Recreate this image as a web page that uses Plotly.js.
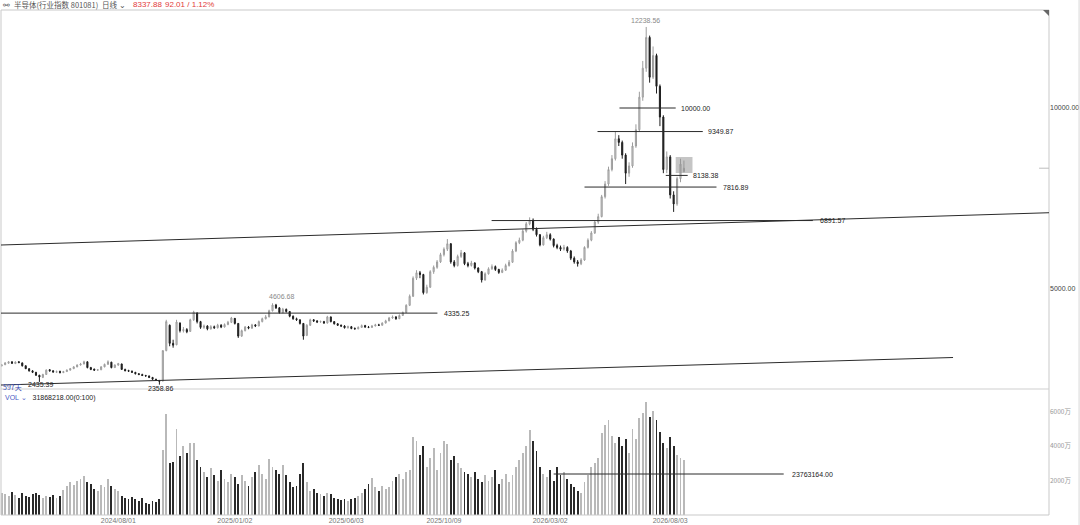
<!DOCTYPE html>
<html>
<head>
<meta charset="utf-8">
<script src="https://cdn.plot.ly/plotly-3.0.1.min.js"></script>
<style>
html,body{margin:0;padding:0;background:#fff;}
#chart{width:1080px;height:525px;}
</style>
</head>
<body>
<div id="chart"></div>
<script>
// ---- data (candle index 0..199, daily-ish sampling) ----
const openP = [
2880,2910,2950,2990,2940,2990,2960,2880,2800,2740,
2700,2620,2560,2640,2770,2740,2700,2730,2690,2720,
2760,2800,2850,2900,2930,2990,2830,2790,2760,2770,
2850,2920,2980,2830,2900,2930,2780,2750,2730,2700,
2660,2640,2610,2600,2560,2510,2470,2460,3300,4000,
3500,3460,4060,3850,3880,3830,4150,4340,4100,3940,
3980,3900,3960,3930,4000,3950,4020,4080,4190,4050,
3700,3850,3950,3920,4010,3980,4100,4180,4230,4400,
4560,4480,4350,4440,4380,4250,4180,4150,4050,3720,
4000,4150,4120,4090,4100,4060,4230,4100,4040,4000,
3980,3930,3960,3910,3900,3940,3990,3950,3940,3980,
4010,4000,4060,4120,4200,4230,4180,4270,4350,4550,
4800,5300,5450,5400,4900,5050,5480,5600,5750,5950,
6100,6250,5750,5650,5900,6000,5700,5650,5720,5580,
5480,5250,5420,5560,5620,5540,5460,5520,5650,5740,
6050,6280,6350,6600,6800,6900,6650,6500,6220,6420,
6500,6380,6200,6150,6100,6150,6050,5850,5750,5700,
5800,6150,6350,6550,6850,7000,7550,7900,8300,8600,
9150,9050,8700,8200,8400,8950,9400,10300,11100,11950,
10850,11450,10600,9750,8300,8650,7600,7350,8050,8245.87
];
const highP = [
2930,2980,3010,3000,3000,3010,2970,2890,2810,2760,
2710,2630,2660,2780,2790,2760,2750,2740,2740,2780,
2820,2870,2920,2960,3020,3000,2850,2800,2790,2870,
2940,3030,2990,2920,2960,2940,2800,2770,2750,2710,
2680,2660,2630,2610,2570,2520,2490,3300,4150,4020,
3600,4150,4080,3950,3920,4180,4400,4350,4120,4020,
4000,4000,3990,4040,4030,4050,4120,4230,4200,4060,
3880,3980,3980,4040,4030,4130,4210,4280,4430,4606.68,
4590,4500,4480,4460,4390,4270,4210,4160,4060,4030,
4180,4170,4140,4130,4120,4260,4240,4110,4060,4020,
4000,3990,3980,3940,3970,4020,4010,3980,4000,4040,
4040,4080,4150,4230,4270,4250,4300,4380,4580,4850,
5350,5520,5500,5420,5120,5520,5650,5800,6000,6150,
6380,6270,5800,5950,6080,6020,5750,5780,5740,5600,
5500,5460,5600,5680,5650,5560,5570,5700,5800,6100,
6320,6420,6650,6850,6980,6950,6700,6520,6470,6580,
6540,6400,6250,6200,6220,6180,6080,5900,5800,5850,
6180,6400,6600,6900,7080,7600,7980,8380,8700,9349.87,
9250,9100,8750,8500,9050,9550,10450,11300,12238.56,12000,
11700,11500,10650,9800,8800,8700,7700,8100,8600,8550
];
const lowP = [
2860,2900,2940,2930,2930,2950,2860,2790,2720,2680,
2600,2435.39,2540,2630,2720,2690,2680,2670,2680,2710,
2750,2790,2840,2890,2920,2810,2760,2740,2740,2760,
2840,2910,2810,2820,2880,2770,2730,2710,2690,2640,
2620,2600,2580,2540,2490,2460,2358.86,2450,3280,3420,
3380,3450,3800,3800,3780,3820,4120,4050,3900,3900,
3860,3880,3900,3910,3920,3940,4000,4060,4020,3650,
3680,3830,3890,3900,3950,3970,4080,4160,4220,4380,
4450,4320,4330,4350,4220,4150,4120,4020,3600,3700,
3980,4090,4060,4070,4040,4050,4080,4020,3980,3950,
3910,3910,3890,3880,3890,3930,3930,3920,3930,3970,
3980,3990,4050,4110,4180,4150,4170,4260,4340,4530,
4780,5250,5300,4850,4870,5030,5420,5560,5720,5900,
6050,5700,5600,5620,5860,5660,5600,5620,5540,5440,
5180,5230,5400,5530,5500,5420,5440,5500,5620,5720,
6020,6240,6320,6560,6760,6600,6450,6180,6200,6380,
6340,6150,6100,6050,6060,6000,5800,5700,5620,5660,
5780,6120,6320,6520,6800,6980,7500,7850,8250,8550,
8950,8600,7900,8100,8350,8900,9350,10200,11000,10700,
10800,10400,9500,8200,8200,7500,7130,7300,7950,8220
];
const closeP = [
2900,2960,2990,2950,2985,2970,2880,2800,2740,2700,
2620,2570,2640,2760,2740,2710,2720,2690,2720,2760,
2800,2850,2900,2930,2990,2830,2780,2760,2770,2850,
2920,2990,2830,2900,2940,2780,2740,2730,2700,2660,
2640,2610,2600,2560,2510,2480,2450,3300,4100,3500,
3450,4090,3850,3880,3820,4150,4360,4100,3940,3980,
3900,3960,3930,4000,3950,4020,4080,4200,4050,3700,
3850,3950,3920,4010,3980,4100,4180,4230,4400,4560,
4480,4350,4440,4380,4250,4180,4150,4050,3700,4000,
4150,4120,4090,4100,4060,4230,4100,4040,4000,3980,
3930,3960,3910,3900,3940,3990,3950,3940,3980,4010,
4000,4060,4120,4200,4230,4180,4270,4350,4550,4800,
5300,5450,5400,4900,5050,5480,5600,5750,5950,6100,
6250,5750,5650,5900,6000,5700,5650,5720,5580,5480,
5250,5420,5560,5620,5540,5460,5520,5650,5740,6050,
6280,6350,6600,6800,6900,6650,6500,6220,6420,6500,
6380,6200,6150,6100,6150,6050,5850,5750,5700,5800,
6150,6350,6550,6850,7000,7550,7900,8300,8600,9150,
9050,8700,8200,8400,8950,9400,10300,11100,11950,10850,
11450,10600,9750,8300,8650,7600,7350,8050,8450,8337.88
];
// volume in 万 (10,000 shares)
const volWan = [
1300,1200,1100,1350,1150,1000,1250,1100,1050,1200,
1300,1150,1000,1100,1050,1150,1000,1100,1450,1700,
1900,1750,2000,2100,2260,1900,1800,1500,1400,1750,
1600,2100,1700,1500,1400,1100,1000,950,1050,900,
800,1000,700,650,800,750,900,3770,5850,3000,
3100,4990,3400,4000,3600,4170,4200,3200,2800,2500,
2200,2700,2300,2000,2600,2100,1900,2400,2200,1800,
2300,2000,1700,2200,2500,2900,2400,2100,3250,2800,
2600,2400,2900,2300,1900,1600,1700,2400,3000,1900,
1400,1500,1300,1200,1100,1300,1200,1000,900,850,
950,800,900,1000,1100,1300,1500,1800,2140,1600,
1400,1700,1500,1650,2000,2200,2400,2100,2500,2600,
4500,4300,3500,4000,2800,3300,3900,2600,3600,4300,
4100,3200,3400,3000,2700,2500,2400,2200,2500,2100,
1900,2300,2000,2200,2600,1800,2100,2400,1900,2300,
2800,3200,3600,4000,4930,4300,3700,2800,2400,2200,
2600,2000,2800,2300,2500,2100,1800,1600,1400,1300,
1900,2300,2800,3000,3300,4750,5200,5500,4600,4200,
4500,4000,4400,3600,5000,4400,5600,5900,6550,5700,
6000,5500,4800,4200,3900,4500,4000,3500,3300,3186.8218
];
// date tick labels and the candle index where each falls
const tickIdx = [34, 68, 100.5, 129, 160, 195];
const tickText = ['2024/08/01','2025/01/02','2025/06/03','2025/10/09','2026/03/02','2026/08/03'];
// marked price levels
const levelVals = [4335.25, 6891.57, 7816.89, 9349.87, 10000.00, 8138.38];
const levelFrom = [-0.2, 142.9, 170.0, 173.8, 180.2, 193.7];
const levelTo   = [127.1, 236.6, 208.5, 204.5, 196.6, 200.1];
const volLevel = 2376.3164;           // 23763164.00
const lastVolRaw = '31868218.00';
const lastPrice = 8337.88, change = 92.01, changePct = 1.12;

// ---- build ----
const idx = closeP.map((_, i) => i);
const isUp = closeP.map((c, i) => c >= openP[i]);
const volColors = isUp.map(u => u ? '#b9b9b9' : '#2a2a2a');

const X0 = -0.204, X1 = 305.49;
const YMIN = 2239, YMAX = 12707;
const PRICE_DOM = 0.2495;

const candle = {
  type: 'candlestick', x: idx, open: openP, high: highP, low: lowP, close: closeP,
  xaxis: 'x', yaxis: 'y', whiskerwidth: 0,
  increasing: {line: {color: '#9c9c9c', width: 1}, fillcolor: '#dadada'},
  decreasing: {line: {color: '#1e1e1e', width: 1}, fillcolor: '#1e1e1e'},
  hoverinfo: 'skip', showlegend: false
};
const vol = {
  type: 'bar', x: idx, y: volWan, xaxis: 'x', yaxis: 'y2',
  marker: {color: volColors, line: {width: 0}}, width: 0.55,
  hoverinfo: 'skip', showlegend: false
};

const lineCol = '#2b2b2b';
const shapes = [];
// plot frame and panel separator
shapes.push({type:'rect', xref:'paper', yref:'paper', x0:0, x1:1, y0:0, y1:1, line:{color:'#c9c9c9', width:1}});
shapes.push({type:'line', xref:'paper', yref:'paper', x0:0, x1:1, y0:PRICE_DOM, y1:PRICE_DOM, line:{color:'#cfcfcf', width:1}});
shapes.push({type:'line', xref:'paper', yref:'paper', x0:1.0287, x1:1.0287, y0:-0.02, y1:1.02, line:{color:'#d9d9d9', width:1}});
shapes.push({type:'path', xref:'paper', yref:'paper', path:'M 0.9943 1 L 1 1 L 1 0.9881 Z', fillcolor:'#666', line:{width:0}});
// trend lines
shapes.push({type:'line', xref:'x', yref:'y', x0:X0, y0:6216, x1:X1, y1:7108, line:{color:lineCol, width:1}});
shapes.push({type:'line', xref:'x', yref:'y', x0:X0, y0:2349, x1:277.5, y1:3109, line:{color:lineCol, width:1}});
// horizontal levels
levelVals.forEach((v, k) => {
  shapes.push({type:'line', xref:'x', yref:'y', x0:levelFrom[k], x1:levelTo[k], y0:v, y1:v, line:{color:lineCol, width:1}});
});
// highlighted box
shapes.push({type:'rect', xref:'x', yref:'y', x0:196.6, x1:201.5, y0:8205, y1:8647, fillcolor:'rgba(150,150,150,0.55)', line:{width:0}});
// current price tick at right edge
shapes.push({type:'line', xref:'x', yref:'y', x0:302.6, x1:X1, y0:lastPrice, y1:lastPrice, line:{color:'#bdbdbd', width:1}});
// volume level
shapes.push({type:'line', xref:'x', yref:'y2', x0:161, x1:228.1, y0:volLevel, y1:volLevel, line:{color:lineCol, width:1}});

const numFont = {family:'Liberation Sans, Arial, sans-serif', size:7, color:'#222'};
const grayFont = {family:'Liberation Sans, Arial, sans-serif', size:7, color:'#8a8a8a'};
const ann = [];
const labelAfter = [128.3, 238.0, 209.7, 205.4, 197.5, 201.0];
levelVals.forEach((v, k) => {
  ann.push({xref:'x', yref:'y', x:labelAfter[k], y:v, text:v.toFixed(2), showarrow:false, xanchor:'left', yanchor:'middle', font:numFont});
});
ann.push({xref:'x', yref:'y', x:187.8, y:12238.56, text:'12238.56', showarrow:false, xanchor:'center', yanchor:'bottom', yshift:1, font:grayFont});
ann.push({xref:'x', yref:'y', x:81.5, y:4606.68, text:'4606.68', showarrow:false, xanchor:'center', yanchor:'bottom', yshift:1, font:grayFont});
ann.push({xref:'x', yref:'y', x:11.2, y:2377, text:'2435.39', showarrow:false, xanchor:'center', yanchor:'middle', font:numFont});
ann.push({xref:'x', yref:'y', x:46.2, y:2266, text:'2358.86', showarrow:false, xanchor:'center', yanchor:'middle', font:numFont});
ann.push({xref:'paper', yref:'y', x:0, y:2300, text:'597天', showarrow:false, xanchor:'left', yanchor:'middle',
  font:{family:'Noto Sans CJK SC, sans-serif', size:7, color:'#3b4fb8'}});
ann.push({xref:'x', yref:'y2', x:230, y:volLevel, text:'23763164.00', showarrow:false, xanchor:'left', yanchor:'middle', font:numFont});
ann.push({xref:'paper', yref:'paper', x:0.002, y:0.2435, text:'<span style="color:#4a5bc4">VOL ⌄</span>   ' + lastVolRaw + '(0:100)',
  showarrow:false, xanchor:'left', yanchor:'top', font:{family:'Liberation Sans, Arial, sans-serif', size:7, color:'#222'}});
// header line
const hdrFont = {family:'Noto Sans CJK SC, sans-serif', size:7.5, color:'#555'};
const HY = 5.5;
ann.push({xref:'paper', yref:'paper', x:0.0, y:1.0, yshift:HY, text:'⚯', showarrow:false, xanchor:'left', yanchor:'middle', font:{size:8, color:'#555'}});
ann.push({xref:'paper', yref:'paper', x:0.0105, y:1.0, yshift:HY, text:'半导体(行业指数 801081)', showarrow:false, xanchor:'left', yanchor:'middle', font:hdrFont});
ann.push({xref:'paper', yref:'paper', x:0.0945, y:1.0, yshift:HY, text:'日线 ⌄', showarrow:false, xanchor:'left', yanchor:'middle', font:hdrFont});
ann.push({xref:'paper', yref:'paper', x:0.1242, y:1.0, yshift:HY, text:lastPrice.toFixed(2), showarrow:false, xanchor:'left', yanchor:'middle',
  font:{family:'Liberation Sans, Arial, sans-serif', size:8, color:'#e23b3b'}});
ann.push({xref:'paper', yref:'paper', x:0.1547, y:1.0, yshift:HY, text:change.toFixed(2) + ' / ' + changePct.toFixed(2) + '%', showarrow:false, xanchor:'left', yanchor:'middle',
  font:{family:'Liberation Sans, Arial, sans-serif', size:8, color:'#e23b3b'}});

const layout = {
  width:1080, height:525,
  margin:{l:1, r:31, t:10, b:10},
  paper_bgcolor:'#fff', plot_bgcolor:'#fff',
  showlegend:false, bargap:0, boxgap:0.55,
  xaxis:{range:[X0, X1], anchor:'y2', showgrid:false, zeroline:false, showline:false,
    rangeslider:{visible:false}, tickmode:'array', tickvals:tickIdx, ticktext:tickText,
    ticks:'', tickfont:{family:'Liberation Sans, Arial, sans-serif', size:7, color:'#777'}, fixedrange:true},
  yaxis:{domain:[PRICE_DOM, 1], range:[YMIN, YMAX], side:'right', showgrid:false, zeroline:false, showline:false,
    tickmode:'array', tickvals:[5000, 10000], ticktext:['5000.00','10000.00'], ticks:'',
    tickfont:{family:'Liberation Sans, Arial, sans-serif', size:7, color:'#444'}},
  yaxis2:{domain:[0, PRICE_DOM], range:[0, 7304], side:'right', showgrid:false, zeroline:false, showline:false, anchor:'x',
    tickmode:'array', tickvals:[2000, 4000, 6000], ticktext:['2000万','4000万','6000万'], ticks:'',
    tickfont:{family:'Noto Sans CJK SC, sans-serif', size:6.5, color:'#999'}},
  shapes:shapes, annotations:ann
};

Plotly.newPlot('chart', [candle, vol], layout, {displayModeBar:false, staticPlot:true});
</script>
</body>
</html>
